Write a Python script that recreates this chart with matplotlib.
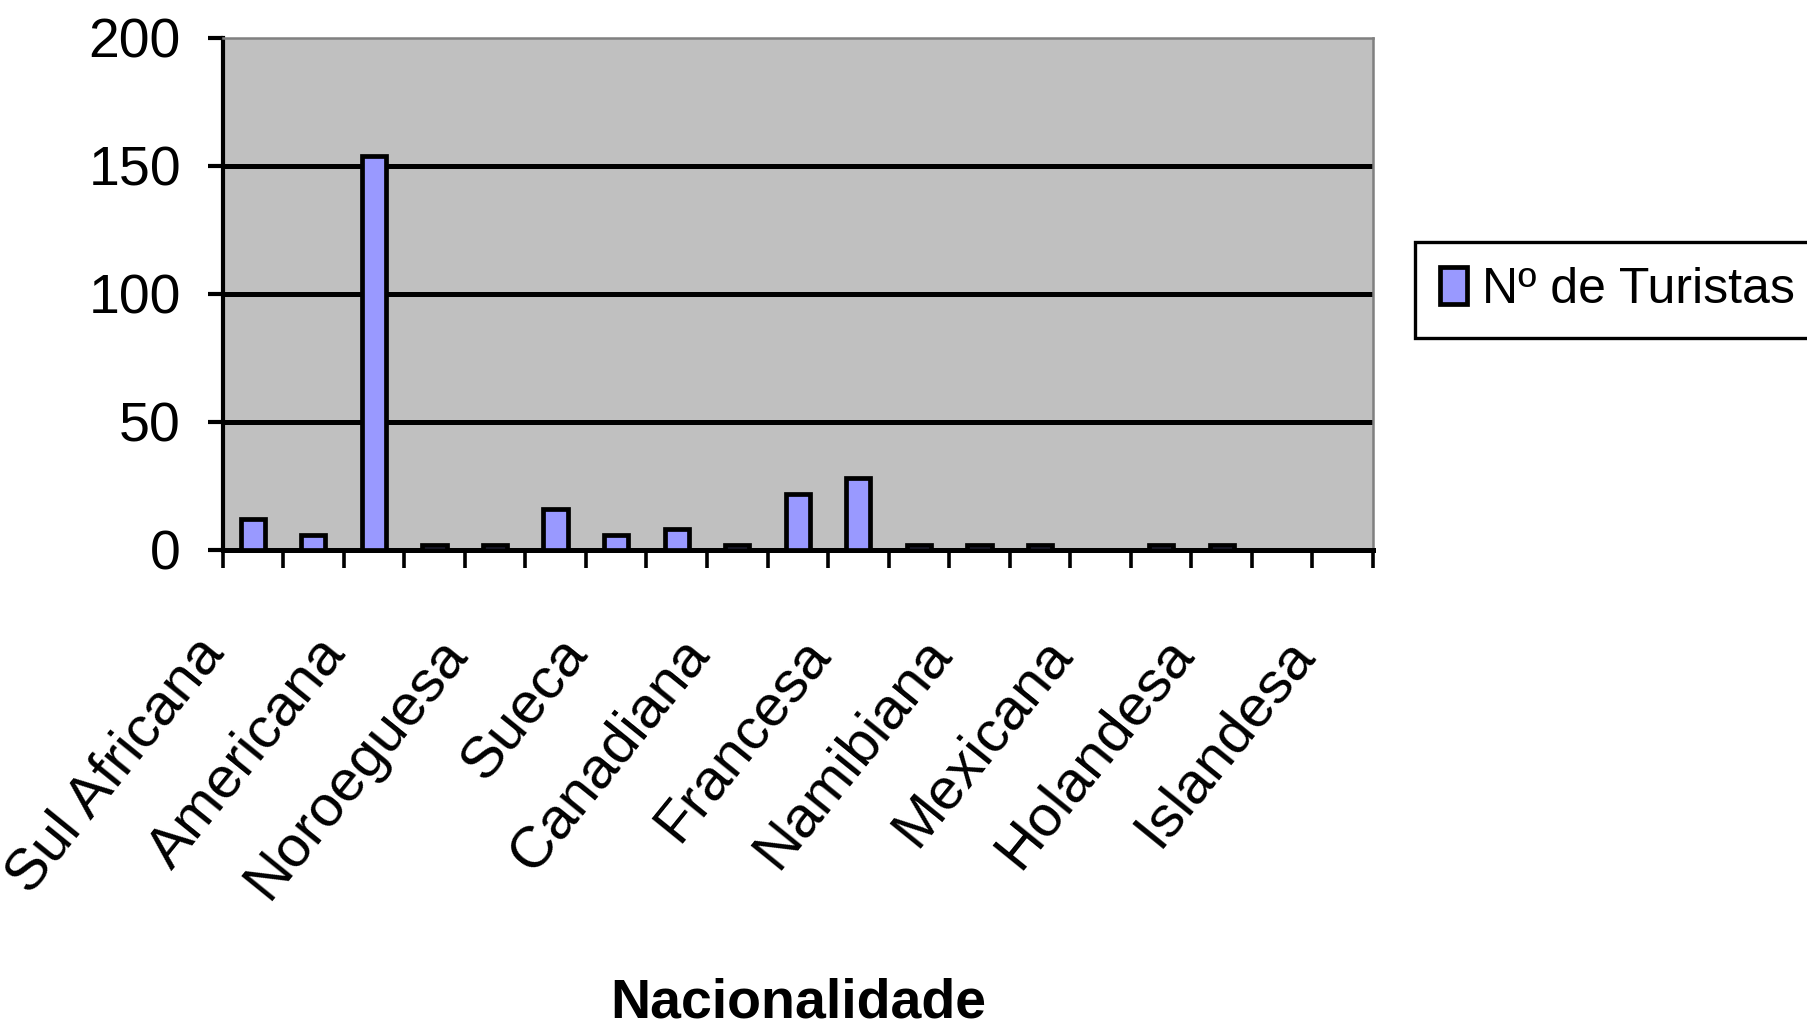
import matplotlib
matplotlib.use("Agg")
import matplotlib.pyplot as plt
import matplotlib.transforms as mtransforms
import numpy as np

# Tourists per nationality (only every other category carries a visible label)
nationalities = ["Sul Africana", "", "Americana", "", "Noroeguesa", "", "Sueca", "",
                 "Canadiana", "", "Francesa", "", "Namibiana", "", "Mexicana", "",
                 "Holandesa", "", "Islandesa"]
tourists = [12, 6, 154, 2, 2, 16, 6, 8, 2, 22, 28, 2, 2, 2, 0, 2, 2, 0, 0]
y_ticks = [0, 50, 100, 150, 200]
series_name = "Nº de Turistas"
x_title = "Nacionalidade"

font = ["Liberation Sans", "DejaVu Sans"]

fig = plt.figure(figsize=(18.08, 10.27), dpi=100)
ax = fig.add_axes([0.1231, 0.4645, 0.6363, 0.4985])
ax.set_facecolor("#C0C0C0")

x = np.arange(len(tourists))
bars = ax.bar(x, tourists, width=0.4, color="#9999FF", edgecolor="black",
              linewidth=3.4, zorder=3, label=series_name)

# horizontal gridlines (top one is the plot border)
for v in y_ticks[1:-1]:
    ax.axhline(v, color="black", linewidth=3.6, zorder=1)

ax.set_xlim(-0.5, len(tourists) - 0.5)
ax.set_ylim(y_ticks[0], y_ticks[-1])

ax.set_yticks(y_ticks)
ax.set_yticklabels([str(v) for v in y_ticks], family=font, fontsize=40)
ax.tick_params(axis="y", direction="out", length=11, width=3.0, pad=19)

ax.set_xticks(x)
ax.set_xticklabels(nationalities, family=font, fontsize=42,
                   rotation=51, ha="right", va="top")
ax.set_xticks(np.arange(len(tourists) + 1) - 0.5, minor=True)
ax.tick_params(axis="x", which="major", length=0, pad=56)
ax.tick_params(axis="x", which="minor", direction="out", length=13, width=2.6)
shift = mtransforms.ScaledTranslation(-0.18, 0, fig.dpi_scale_trans)
for lbl in ax.get_xticklabels():
    lbl.set_transform(lbl.get_transform() + shift)

for side in ["top", "right"]:
    ax.spines[side].set_color("#808080")
    ax.spines[side].set_linewidth(1.8)
ax.spines["left"].set_linewidth(3.0)
ax.spines["bottom"].set_linewidth(3.6)

fig.text(0.4414, 0.009, x_title, ha="center", va="baseline",
         family=font, fontsize=40, fontweight="bold")

leg = fig.legend(handles=[bars], labels=[series_name], loc="center left",
                 bbox_to_anchor=(0.7826, 0.7176), bbox_transform=fig.transFigure,
                 borderaxespad=0, fancybox=False, framealpha=1,
                 prop={"family": font, "size": 36},
                 handlelength=0.55, handleheight=0.75, handletextpad=0.3,
                 borderpad=0.5)
leg.get_frame().set_edgecolor("black")
leg.get_frame().set_linewidth(2.4)

fig.savefig("out.png", dpi=100)
